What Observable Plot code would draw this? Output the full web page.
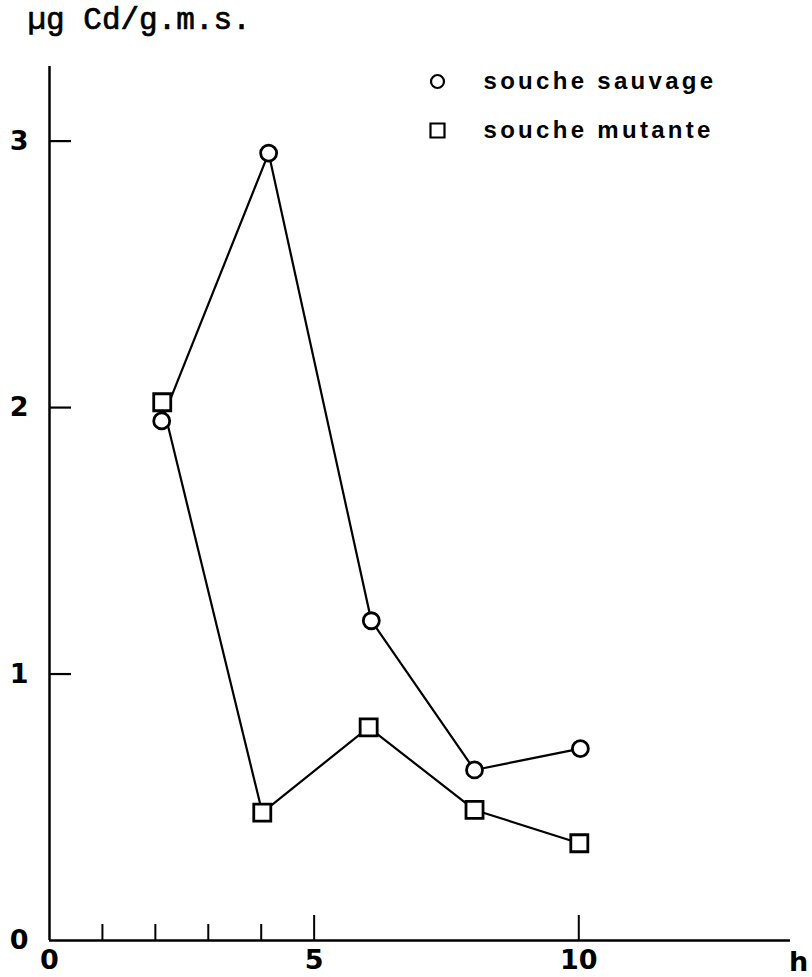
<!DOCTYPE html>
<html>
<head>
<meta charset="utf-8">
<script src="https://cdn.jsdelivr.net/npm/d3@7"></script>
<script src="https://cdn.jsdelivr.net/npm/@observablehq/plot@0.6"></script>
<style>
  body { margin: 0; background: #fff; }
  g[font-family="Liberation Sans"] text { letter-spacing: 3.3px; }
</style>
</head>
<body>
<div id="chart"></div>
<script>
// Data (time in h, µg Cd per g of dry matter)
const yLabel = "µg Cd/g.m.s.";
const xLabel = "h";
const seriesNames = ["souche sauvage", "souche mutante"];
const seriesSymbols = ["circle", "square"];

const sauvageX = [2.12, 4.14, 6.08, 8.03, 10.03];
const sauvageY = [1.95, 2.955, 1.2, 0.64, 0.72];
const mutanteX = [2.13, 4.02, 6.03, 8.03, 10.01];
const mutanteY = [2.02, 0.48, 0.8, 0.49, 0.365];

const xMinorTicks = [1, 2, 3, 4];
const xMajorTicks = [5, 10];
const xTickLabels = [0, 5, 10];
const yTicks = [1, 2, 3];
const yTickLabels = [0, 1, 2, 3];
const xDomain = [0, 14];
const yDomain = [0, 3.28];

const sauvage = sauvageX.map((x, i) => ({x, y: sauvageY[i]}));
const mutante = mutanteX.map((x, i) => ({x, y: mutanteY[i]}));

const tickFont = {fontFamily: "DejaVu Sans", fontSize: 27, fontWeight: "bold"};
const legendFont = {fontFamily: "Liberation Sans", fontSize: 24, fontWeight: "bold"};

const chart = Plot.plot({
  width: 812,
  height: 977,
  marginTop: 66,
  marginRight: 22,
  marginBottom: 37,
  marginLeft: 49,
  style: {background: "white", color: "black", overflow: "visible"},
  x: {domain: xDomain, axis: null},
  y: {domain: yDomain, axis: null},
  marks: [
    // axis lines
    Plot.ruleX([0], {stroke: "black", strokeWidth: 2.5}),
    Plot.ruleY([0], {stroke: "black", strokeWidth: 2.5}),
    // inward ticks
    Plot.axisY({ticks: yTicks, tickSize: -22, fill: "none", label: null, strokeWidth: 2.2}),
    Plot.axisX({ticks: xMinorTicks, tickSize: -16, fill: "none", label: null, strokeWidth: 2}),
    Plot.axisX({ticks: xMajorTicks, tickSize: -25, fill: "none", label: null, strokeWidth: 2}),
    // tick labels
    Plot.axisY({ticks: yTickLabels, tickSize: 0, tickPadding: 21, label: null, tickFormat: d3.format("d"), ...tickFont}),
    Plot.axisX({ticks: xTickLabels, tickSize: 0, tickPadding: 9, label: null, tickFormat: d3.format("d"), ...tickFont}),
    Plot.text([xLabel], {frameAnchor: "bottom-right", dx: 8, dy: 30, lineAnchor: "bottom", textAnchor: "middle", ...tickFont}),
    Plot.text([yLabel], {frameAnchor: "top-left", dx: -22, dy: -38, lineAnchor: "bottom", textAnchor: "start",
      fontFamily: "Liberation Mono", fontSize: 31, fill: "black", stroke: "black", strokeWidth: 0.7}),
    // series
    Plot.line(sauvage, {x: "x", y: "y", stroke: "black", strokeWidth: 2.2}),
    Plot.line(mutante, {x: "x", y: "y", stroke: "black", strokeWidth: 2.2}),
    Plot.dot(sauvage, {x: "x", y: "y", symbol: seriesSymbols[0], r: 8, fill: "white", stroke: "black", strokeWidth: 2.8}),
    Plot.dot(mutante, {x: "x", y: "y", symbol: seriesSymbols[1], r: 9.6, fill: "white", stroke: "black", strokeWidth: 2.8}),
    // legend
    Plot.dot([seriesNames[0]], {frameAnchor: "top-left", dx: 388, dy: 15, symbol: seriesSymbols[0], r: 6.5, fill: "white", stroke: "black", strokeWidth: 2.2}),
    Plot.dot([seriesNames[1]], {frameAnchor: "top-left", dx: 388, dy: 64, symbol: seriesSymbols[1], r: 7.9, fill: "white", stroke: "black", strokeWidth: 2.2}),
    Plot.text([seriesNames[0]], {text: d => d, frameAnchor: "top-left", dx: 434, dy: 22, lineAnchor: "bottom", textAnchor: "start", ...legendFont}),
    Plot.text([seriesNames[1]], {text: d => d, frameAnchor: "top-left", dx: 434, dy: 71, lineAnchor: "bottom", textAnchor: "start", ...legendFont})
  ]
});
document.getElementById("chart").appendChild(chart);
</script>
</body>
</html>
